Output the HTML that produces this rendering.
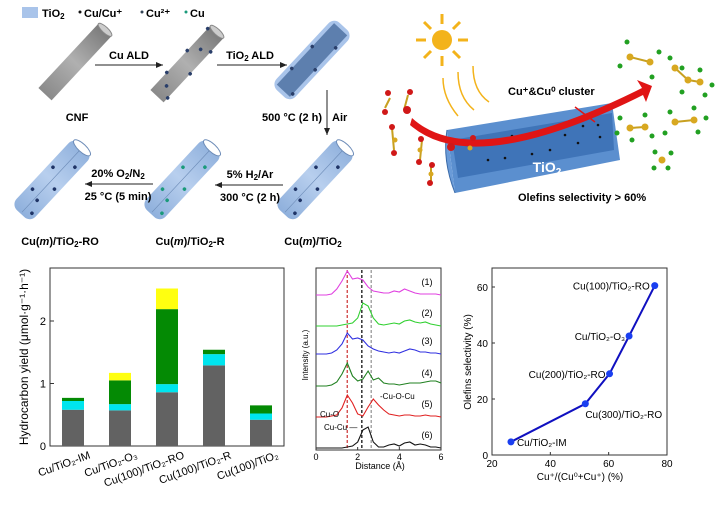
<!DOCTYPE html>
<html><head><meta charset="utf-8"><style>
body{margin:0;background:#fff;width:719px;height:512px;overflow:hidden}
svg{display:block;font-family:"Liberation Sans",sans-serif}
.b{font-weight:bold;font-size:11px}
</style></head><body>
<svg id="fig" width="719" height="512" viewBox="0 0 719 512">
<defs>
<marker id="ah" markerWidth="8" markerHeight="8" refX="7" refY="3" orient="auto"><path d="M0,0L7,3L0,6z" fill="#222"/></marker>
<linearGradient id="gcyl" x1="0" y1="0" x2="1" y2="0"><stop offset="0" stop-color="#8a8a8a"/><stop offset=".5" stop-color="#b0b0b0"/><stop offset="1" stop-color="#7a7a7a"/></linearGradient>
<linearGradient id="bcyl" x1="0" y1="0" x2="1" y2="0"><stop offset="0" stop-color="#8fb0dc"/><stop offset=".5" stop-color="#b8cfee"/><stop offset="1" stop-color="#8fb0dc"/></linearGradient>
</defs>
<g>
<rect x="22" y="7" width="16" height="11" fill="#a9c4ea"/>
<text x="42" y="17" class="b">TiO<tspan font-size="8" dy="2">2</tspan></text>
<circle cx="80" cy="12" r="1.5" fill="#111"/><text x="84" y="17" class="b">Cu/Cu⁺</text>
<circle cx="142" cy="12" r="1.5" fill="#345"/><text x="146" y="17" class="b">Cu²⁺</text>
<circle cx="186" cy="12" r="1.5" fill="#1a9a7a"/><text x="190" y="17" class="b">Cu</text>
</g>
<g>
<g transform="translate(75,62) rotate(-47)"><rect x="-44" y="-9" width="88" height="18" fill="url(#gcyl)"/><ellipse cx="44" cy="0" rx="3" ry="9" fill="#ccc" stroke="#888"/></g>
<g transform="translate(187,64) rotate(-47)"><rect x="-44" y="-9" width="88" height="18" fill="url(#gcyl)"/><ellipse cx="44" cy="0" rx="3" ry="9" fill="#ccc" stroke="#888"/>
<g fill="#2a3f6a"><circle cx="-38" cy="9" r="1.8"/><circle cx="-20" cy="-9" r="1.8"/><circle cx="-5" cy="9" r="1.8"/><circle cx="10" cy="-9" r="1.8"/><circle cx="25" cy="9" r="1.8"/><circle cx="40" cy="-9" r="1.8"/><circle cx="-30" cy="0" r="1.8"/><circle cx="20" cy="0" r="1.8"/></g></g>
<g transform="translate(312,60) rotate(-47)"><rect x="-46" y="-13" width="92" height="26" rx="8" fill="#a9c4ea"/><rect x="-42" y="-9" width="84" height="18" fill="#5d7fae"/>
<g fill="#2a3f6a"><circle cx="-38" cy="9" r="1.8"/><circle cx="-20" cy="-9" r="1.8"/><circle cx="-5" cy="9" r="1.8"/><circle cx="10" cy="-9" r="1.8"/><circle cx="25" cy="9" r="1.8"/></g></g>
<g transform="translate(52,180) rotate(-47)"><rect x="-46" y="-13" width="92" height="26" rx="8" fill="url(#bcyl)"/><ellipse cx="44" cy="0" rx="4" ry="11" fill="#fff" stroke="#6d8cb8"/><line x1="-44" y1="0" x2="40" y2="0" stroke="#6d8cb8" stroke-width=".6"/>
<g fill="#1f3466"><circle cx="-38" cy="8" r="1.8"/><circle cx="-20" cy="-8" r="1.8"/><circle cx="-5" cy="8" r="1.8"/><circle cx="10" cy="-8" r="1.8"/><circle cx="25" cy="8" r="1.8"/><circle cx="-25" cy="3" r="1.8"/></g></g>
<g transform="translate(182,180) rotate(-47)"><rect x="-46" y="-13" width="92" height="26" rx="8" fill="url(#bcyl)"/><ellipse cx="44" cy="0" rx="4" ry="11" fill="#fff" stroke="#6d8cb8"/><line x1="-44" y1="0" x2="40" y2="0" stroke="#6d8cb8" stroke-width=".6"/>
<g fill="#1a9a7a"><circle cx="-38" cy="8" r="1.8"/><circle cx="-20" cy="-8" r="1.8"/><circle cx="-5" cy="8" r="1.8"/><circle cx="10" cy="-8" r="1.8"/><circle cx="25" cy="8" r="1.8"/><circle cx="-25" cy="3" r="1.8"/></g></g>
<g transform="translate(315,180) rotate(-47)"><rect x="-46" y="-13" width="92" height="26" rx="8" fill="url(#bcyl)"/><ellipse cx="44" cy="0" rx="4" ry="11" fill="#fff" stroke="#6d8cb8"/><line x1="-44" y1="0" x2="40" y2="0" stroke="#6d8cb8" stroke-width=".6"/>
<g fill="#1f3466"><circle cx="-38" cy="8" r="1.8"/><circle cx="-20" cy="-8" r="1.8"/><circle cx="-5" cy="8" r="1.8"/><circle cx="10" cy="-8" r="1.8"/><circle cx="25" cy="8" r="1.8"/><circle cx="-25" cy="3" r="1.8"/></g></g>
<g stroke="#222" stroke-width="1" marker-end="url(#ah)">
<line x1="95" y1="65" x2="163" y2="65"/><line x1="217" y1="65" x2="287" y2="65"/>
<line x1="327" y1="90" x2="327" y2="135"/><line x1="283" y1="185" x2="215" y2="185"/><line x1="153" y1="184" x2="85" y2="184"/></g>
<text x="129" y="59" class="b" text-anchor="middle">Cu ALD</text>
<text x="250" y="59" class="b" text-anchor="middle">TiO<tspan font-size="8" dy="2">2</tspan><tspan dy="-2"> ALD</tspan></text>
<text x="322" y="121" class="b" text-anchor="end">500 °C (2 h)</text><text x="332" y="121" class="b">Air</text>
<text x="250" y="178" class="b" text-anchor="middle">5% H<tspan font-size="8" dy="2">2</tspan><tspan dy="-2">/Ar</tspan></text>
<text x="250" y="201" class="b" text-anchor="middle">300 °C (2 h)</text>
<text x="118" y="177" class="b" text-anchor="middle">20% O<tspan font-size="8" dy="2">2</tspan><tspan dy="-2">/N</tspan><tspan font-size="8" dy="2">2</tspan></text>
<text x="118" y="200" class="b" text-anchor="middle">25 °C (5 min)</text>
<text x="77" y="121" class="b" text-anchor="middle">CNF</text>
<text x="60" y="245" class="b" text-anchor="middle">Cu(<tspan font-style="italic">m</tspan>)/TiO<tspan font-size="8" dy="2">2</tspan><tspan dy="-2">-RO</tspan></text>
<text x="190" y="245" class="b" text-anchor="middle">Cu(<tspan font-style="italic">m</tspan>)/TiO<tspan font-size="8" dy="2">2</tspan><tspan dy="-2">-R</tspan></text>
<text x="313" y="245" class="b" text-anchor="middle">Cu(<tspan font-style="italic">m</tspan>)/TiO<tspan font-size="8" dy="2">2</tspan></text>
</g>
<g>
<g fill="#f3b31b"><circle cx="442" cy="40" r="10"/>
<g stroke="#f3b31b" stroke-width="3"><line x1="442" y1="14" x2="442" y2="24"/><line x1="442" y1="56" x2="442" y2="66"/><line x1="416" y1="40" x2="426" y2="40"/><line x1="458" y1="40" x2="468" y2="40"/><line x1="424" y1="22" x2="431" y2="29"/><line x1="453" y1="51" x2="460" y2="58"/><line x1="424" y1="58" x2="431" y2="51"/><line x1="453" y1="29" x2="460" y2="22"/></g></g>
<g fill="none" stroke="#f3b31b" stroke-width="1.5"><path d="M443,78 q0,20 15,38"/><path d="M458,72 q0,25 16,38"/><path d="M473,66 q0,25 16,36"/></g>
<g><path d="M447,130 L612,103 L620,160 L455,193 Z" fill="#5b8fcf"/><path d="M452,140 L612,113 L614,150 L458,178 Z" fill="#3f74b8"/><path d="M447,130 q-5,30 8,63" fill="#6a9bd8" stroke="#3a6aa8"/>
<g fill="#111"><circle cx="470" cy="145" r="1.3"/><circle cx="492" cy="142" r="1.3"/><circle cx="512" cy="136" r="1.3"/><circle cx="520" cy="138" r="1.3"/><circle cx="540" cy="134" r="1.3"/><circle cx="548" cy="130" r="1.3"/><circle cx="565" cy="135" r="1.3"/><circle cx="583" cy="126" r="1.3"/><circle cx="598" cy="125" r="1.3"/><circle cx="600" cy="137" r="1.3"/><circle cx="488" cy="160" r="1.3"/><circle cx="505" cy="158" r="1.3"/><circle cx="532" cy="154" r="1.3"/><circle cx="550" cy="150" r="1.3"/><circle cx="578" cy="143" r="1.3"/></g>
<text x="547" y="172" fill="#fff" font-size="14" font-weight="bold" text-anchor="middle">TiO<tspan font-size="10" dy="3">2</tspan></text></g>
<path d="M412,118 q60,55 230,-30 l-5,-8 l15,6 l-6,16 l-3,-7 q-170,85 -233,30 z" fill="#e01515"/>
<line x1="575" y1="107" x2="595" y2="122" stroke="#e01515" stroke-width="1.5"/>
<text x="508" y="95" class="b" font-size="12">Cu⁺&amp;Cu⁰ cluster</text>
<text x="518" y="201" class="b" font-size="12">Olefins selectivity &gt; 60%</text>
<g stroke="#c8a020" stroke-width="2">
<line x1="385" y1="108" x2="390" y2="98"/><line x1="404" y1="110" x2="408" y2="95"/><line x1="392" y1="128" x2="394" y2="150"/><line x1="422" y1="140" x2="420" y2="160"/><line x1="431" y1="164" x2="431" y2="182"/></g>
<g fill="#d01818"><circle cx="385" cy="112" r="3"/><circle cx="407" cy="110" r="4"/><circle cx="392" cy="127" r="3"/><circle cx="394" cy="153" r="3"/><circle cx="421" cy="139" r="3"/><circle cx="419" cy="162" r="3"/><circle cx="432" cy="165" r="3"/><circle cx="430" cy="183" r="3"/><circle cx="451" cy="147" r="4"/><circle cx="473" cy="138" r="3"/><circle cx="388" cy="93" r="3"/><circle cx="410" cy="92" r="3"/></g>
<g fill="#d8a820"><circle cx="395" cy="140" r="2.5"/><circle cx="420" cy="150" r="2.5"/><circle cx="431" cy="174" r="2.5"/><circle cx="470" cy="148" r="2.5"/></g>
<g><g stroke="#c8a020" stroke-width="2"><line x1="630" y1="57" x2="650" y2="62"/><line x1="675" y1="68" x2="688" y2="80"/><line x1="688" y1="80" x2="700" y2="82"/><line x1="630" y1="128" x2="645" y2="127"/><line x1="675" y1="122" x2="694" y2="120"/><line x1="660" y1="160" x2="665" y2="160"/></g>
<g fill="#d8a820"><circle cx="630" cy="57" r="3.5"/><circle cx="650" cy="62" r="3.5"/><circle cx="675" cy="68" r="3.5"/><circle cx="688" cy="80" r="3.5"/><circle cx="700" cy="82" r="3.5"/><circle cx="630" cy="128" r="3.5"/><circle cx="645" cy="127" r="3.5"/><circle cx="675" cy="122" r="3.5"/><circle cx="694" cy="120" r="3.5"/><circle cx="662" cy="160" r="3.5"/></g>
<g fill="#22a022"><circle cx="627" cy="42" r="2.5"/><circle cx="620" cy="66" r="2.5"/><circle cx="659" cy="52" r="2.5"/><circle cx="652" cy="77" r="2.5"/><circle cx="670" cy="58" r="2.5"/><circle cx="682" cy="68" r="2.5"/><circle cx="682" cy="92" r="2.5"/><circle cx="700" cy="70" r="2.5"/><circle cx="712" cy="85" r="2.5"/><circle cx="705" cy="95" r="2.5"/><circle cx="620" cy="118" r="2.5"/><circle cx="617" cy="133" r="2.5"/><circle cx="632" cy="140" r="2.5"/><circle cx="645" cy="115" r="2.5"/><circle cx="652" cy="136" r="2.5"/><circle cx="670" cy="112" r="2.5"/><circle cx="665" cy="133" r="2.5"/><circle cx="694" cy="108" r="2.5"/><circle cx="706" cy="118" r="2.5"/><circle cx="698" cy="132" r="2.5"/><circle cx="655" cy="152" r="2.5"/><circle cx="668" cy="168" r="2.5"/><circle cx="671" cy="153" r="2.5"/><circle cx="654" cy="168" r="2.5"/></g></g>
</g>
<g id="bar"></g>
<g id="rdf"></g>
<g id="sc"></g>
</svg>
<script>
const NS="http://www.w3.org/2000/svg";
function mk(p,t,a,txt){const e=document.createElementNS(NS,t);for(const k in a)e.setAttribute(k,a[k]);if(txt!=null)e.textContent=txt;p.appendChild(e);return e;}
// ---- bar chart data
const barCats=["Cu/TiO₂-IM","Cu/TiO₂-O₃","Cu(100)/TiO₂-RO","Cu(100)/TiO₂-R","Cu(100)/TiO₂"];
const grayVals=[0.58,0.57,0.86,1.29,0.42];
const cyanVals=[0.14,0.10,0.13,0.18,0.10];
const greenVals=[0.05,0.38,1.20,0.07,0.13];
const yellowVals=[0,0.12,0.33,0,0];
const barTicks=[0,1,2];
// ---- rdf data (x step 0.25 from 0 to 6)
const rdfX=[0,0.25,0.5,0.75,1,1.25,1.5,1.75,2,2.25,2.5,2.75,3,3.25,3.5,3.75,4,4.25,4.5,4.75,5,5.25,5.5,5.75,6];
const rdf1=[0,0,0,1,6,14,24,16,17,15,8,4,3,2,2,4,3,6,4,2,1,1,1,1,0];
const rdf2=[0,0,0,0,0,1,2,3,8,23,20,8,2,1,2,3,2,5,6,4,3,4,2,1,0];
const rdf3=[0,0,0,1,4,10,21,15,16,14,8,5,3,2,1,2,1,3,5,4,2,2,1,1,0];
const rdf4=[0,0,0,1,4,12,23,10,5,7,15,6,8,3,2,2,1,2,3,3,3,4,5,5,3];
const rdf5=[0,0,0,1,2,9,22,14,3,1,10,18,12,7,3,2,1,2,2,1,1,2,1,1,0];
const rdf6=[0,0,0,0,0,0,1,2,6,18,21,6,1,1,3,4,2,5,6,3,4,3,1,1,0];
const rdfOffsets=[155,124,96,64,33,2];
const rdfTicks=[0,2,4,6];
// ---- scatter data
const scX=[26.5,52,60.3,67,75.8];
const scY=[4.7,18.3,29,42.5,60.5];
const scLabels=["Cu/TiO₂-IM","Cu(300)/TiO₂-RO","Cu(200)/TiO₂-RO","Cu/TiO₂-O₃","Cu(100)/TiO₂-RO"];
const scXTicks=[20,40,60,80];
const scYTicks=[0,20,40,60];

// bar chart
(function(){
const g=document.getElementById('bar');
const X0=50,X1=284,Y0=446,T=268;
const y=v=>Y0-v*62.5;
const x=i=>73+i*47;
const f=mk(g,'rect',{x:X0,y:T,width:X1-X0,height:Y0-T,fill:'none',stroke:'#333'});

const series=[[grayVals,'#626262'],[cyanVals,'#00e5ee'],[greenVals,'#048a04'],[yellowVals,'#ffff10']];
barCats.forEach((c,i)=>{let acc=0;series.forEach(([arr,col],s)=>{const v=arr[i];if(v<=0)return;
const r=mk(g,'rect',{x:x(i)-11,y:y(acc+v),width:22,height:y(acc)-y(acc+v),fill:col});
acc+=v;});
const t=mk(g,'text',{x:x(i)+18,y:Y0+12,'font-size':'11','text-anchor':'end',transform:`rotate(-20 ${x(i)+18} ${Y0+12})`},c);
});
barTicks.forEach(v=>{mk(g,'line',{x1:X0,x2:X0+4,y1:y(v),y2:y(v),stroke:'#333'});
const t=mk(g,'text',{x:X0-4,y:y(v)+4,'font-size':'11','text-anchor':'end'},v);
});
const tt=mk(g,'text',{x:28,y:357,'font-size':'12','text-anchor':'middle',transform:'rotate(-90 28 357)'},'Hydrocarbon yield (μmol·g⁻¹·h⁻¹)');

})();
// rdf chart
(function(){
const g=document.getElementById('rdf');
const X0=316,X1=441,T=268,B=450;
const x=v=>X0+v*(X1-X0)/6;
const y=v=>B-v;
const f=mk(g,'rect',{x:X0,y:T,width:X1-X0,height:B-T,fill:'none',stroke:'#333'});

const dl=[[1.5,'#d04040'],[2.2,'#111'],[2.65,'#999']];
dl.forEach(([v,c])=>{const l=mk(g,'line',{x1:x(v),x2:x(v),y1:T+2,y2:B-2,stroke:c,'stroke-width':1.3,'stroke-dasharray':'3,2'});
});
const curves=[rdf1,rdf2,rdf3,rdf4,rdf5,rdf6];const cols=['#e040e0','#30d030','#3030e0','#208020','#e02020','#111'];
curves.forEach((c,k)=>{const d=c.map((v,i)=>(i?'L':'M')+x(rdfX[i]).toFixed(1)+','+y(v+rdfOffsets[k]).toFixed(1)).join('');
const p=mk(g,'path',{d:d,fill:'none',stroke:cols[k],'stroke-width':1.1});

const t=mk(g,'text',{x:427,y:y(rdfOffsets[k]+10),'font-size':'9','text-anchor':'middle'},'('+(k+1)+')');
});
rdfTicks.forEach(v=>{mk(g,'line',{x1:x(v),x2:x(v),y1:B,y2:B-3,stroke:'#333'});
const t=mk(g,'text',{x:x(v),y:B+10,'font-size':'9','text-anchor':'middle'},v);
});
const a=mk(g,'text',{x:320,y:417,'font-size':'8'},'Cu-O');
const b=mk(g,'text',{x:380,y:399,'font-size':'8'},'-Cu-O-Cu');
const c=mk(g,'text',{x:324,y:430,'font-size':'8'},'Cu-Cu —');
const xt=mk(g,'text',{x:380,y:469,'font-size':'9','text-anchor':'middle'},'Distance (Å)');
const yt=mk(g,'text',{x:308,y:355,'font-size':'8','text-anchor':'middle',transform:'rotate(-90 308 355)'},'Intensity (a.u.)');
})();
// scatter
(function(){
const g=document.getElementById('sc');
const X0=492,X1=667,T=268,B=455;
const x=v=>X0+(v-20)*(X1-X0)/60;
const y=v=>B-v*2.8;
const f=mk(g,'rect',{x:X0,y:T,width:X1-X0,height:B-T,fill:'none',stroke:'#333'});

const d=scX.map((v,i)=>(i?'L':'M')+x(v).toFixed(1)+','+y(scY[i]).toFixed(1)).join('');
const p=mk(g,'path',{d:d,fill:'none',stroke:'#1010c0','stroke-width':2});
const off=[[6,4,'start'],[0,14,'start'],[-4,4,'end'],[-4,4,'end'],[-5,4,'end']];
scX.forEach((v,i)=>{const c=mk(g,'circle',{cx:x(v),cy:y(scY[i]),r:3.5,fill:'#1a3ff0'});
const t=mk(g,'text',{x:x(v)+off[i][0],y:y(scY[i])+off[i][1],'font-size':'10','text-anchor':off[i][2]},scLabels[i]);
});
scXTicks.forEach(v=>{mk(g,'line',{x1:x(v),x2:x(v),y1:B,y2:B-3,stroke:'#333'});
const t=mk(g,'text',{x:x(v),y:B+12,'font-size':'10','text-anchor':'middle'},v);});
scYTicks.forEach(v=>{mk(g,'line',{x1:X0,x2:X0+3,y1:y(v),y2:y(v),stroke:'#333'});
const t=mk(g,'text',{x:X0-4,y:y(v)+4,'font-size':'10','text-anchor':'end'},v);});
const xt=mk(g,'text',{x:580,y:480,'font-size':'10','text-anchor':'middle'},'Cu⁺/(Cu⁰+Cu⁺) (%)');
const yt=mk(g,'text',{x:471,y:362,'font-size':'10','text-anchor':'middle',transform:'rotate(-90 471 362)'},'Olefins selectivity (%)');
})();
</script>
</body></html>
